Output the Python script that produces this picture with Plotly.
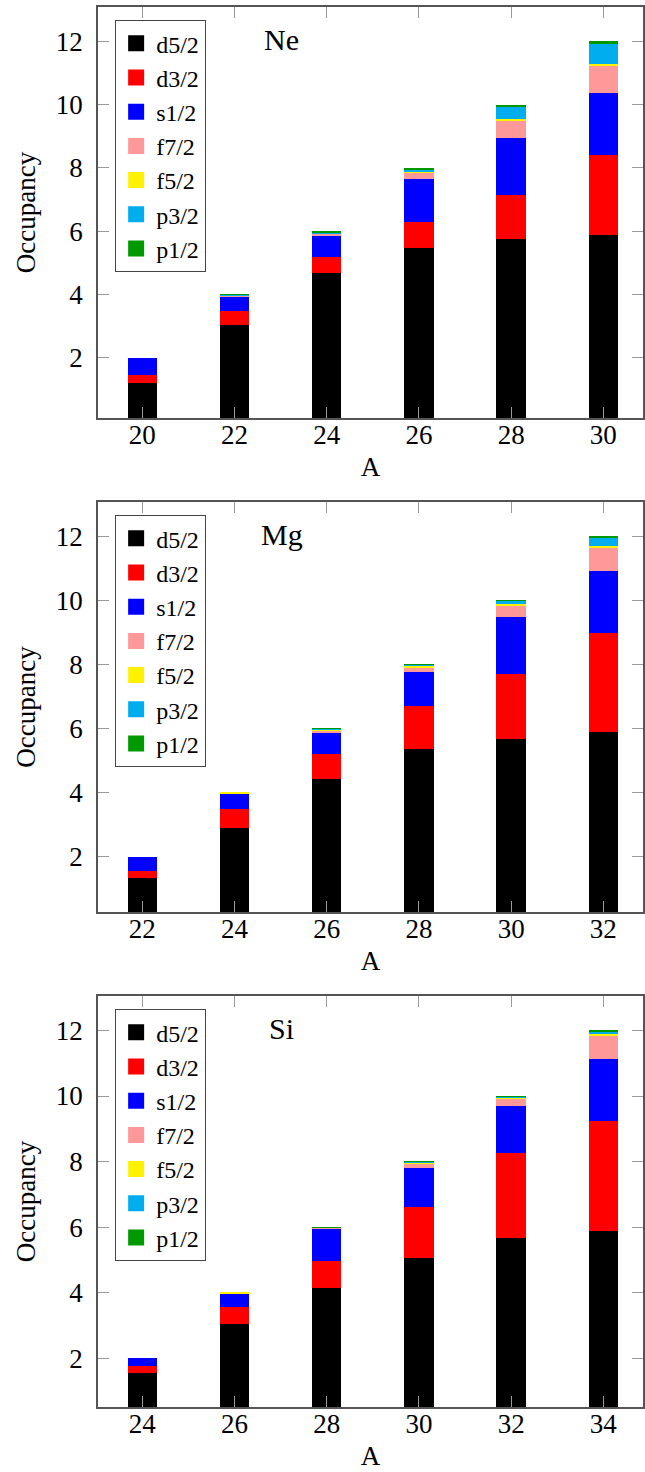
import plotly.graph_objects as go
from plotly.subplots import make_subplots

# Orbital labels and colours
orbitals = ["d5/2", "d3/2", "s1/2", "f7/2", "f5/2", "p3/2", "p1/2"]
colors = ["#000000", "#ff0000", "#0000ff", "#ff9999", "#fff200", "#00aeef", "#009900"]

# Ne isotopes
ne_A = [20, 22, 24, 26, 28, 30]
ne_d52 = [1.19, 3.05, 4.68, 5.46, 5.74, 5.89]
ne_d32 = [0.28, 0.43, 0.51, 0.82, 1.40, 2.51]
ne_s12 = [0.53, 0.47, 0.68, 1.38, 1.81, 1.95]
ne_f72 = [0.0, 0.025, 0.06, 0.20, 0.55, 0.86]
ne_f52 = [0.0, 0.005, 0.01, 0.04, 0.05, 0.07]
ne_p32 = [0.0, 0.01, 0.02, 0.06, 0.39, 0.63]
ne_p12 = [0.0, 0.01, 0.04, 0.04, 0.06, 0.09]

# Mg isotopes
mg_A = [22, 24, 26, 28, 30, 32]
mg_d52 = [1.33, 2.90, 4.42, 5.35, 5.67, 5.89]
mg_d32 = [0.21, 0.59, 0.78, 1.35, 2.04, 3.08]
mg_s12 = [0.46, 0.48, 0.68, 1.05, 1.76, 1.94]
mg_f72 = [0.0, 0.01, 0.06, 0.16, 0.36, 0.75]
mg_f52 = [0.0, 0.02, 0.02, 0.04, 0.05, 0.05]
mg_p32 = [0.0, 0.0, 0.03, 0.04, 0.10, 0.26]
mg_p12 = [0.0, 0.0, 0.01, 0.01, 0.02, 0.03]

# Si isotopes
si_A = [24, 26, 28, 30, 32, 34]
si_d52 = [1.57, 3.05, 4.14, 5.07, 5.67, 5.90]
si_d32 = [0.19, 0.53, 0.84, 1.55, 2.58, 3.35]
si_s12 = [0.24, 0.40, 0.97, 1.19, 1.46, 1.87]
si_f72 = [0.0, 0.01, 0.03, 0.14, 0.21, 0.74]
si_f52 = [0.0, 0.01, 0.01, 0.03, 0.04, 0.06]
si_p32 = [0.0, 0.0, 0.005, 0.01, 0.03, 0.06]
si_p12 = [0.0, 0.0, 0.005, 0.01, 0.01, 0.02]

y_ticks = [2, 4, 6, 8, 10, 12]

panels = [
    ("Ne", ne_A, [ne_d52, ne_d32, ne_s12, ne_f72, ne_f52, ne_p32, ne_p12], [0.10, 13.08]),
    ("Mg", mg_A, [mg_d52, mg_d32, mg_s12, mg_f72, mg_f52, mg_p32, mg_p12], [0.27, 13.07]),
    ("Si", si_A, [si_d52, si_d32, si_s12, si_f72, si_f52, si_p32, si_p12], [0.52, 13.05]),
]

FONT = "'Liberation Serif', 'DejaVu Serif', serif"
FS = 27
LEG_FS = 24
W, H = 645, 1472
ML, MR, MT, MB = 98, 0, 7, 65
plot_h = H - MT - MB

# pixel extents (top, bottom) of each axis box
boxes = [(7, 418), (502, 912), (996, 1407)]

fig = make_subplots(rows=3, cols=1)

for i, (name, A, series, yr) in enumerate(panels):
    row = i + 1
    leg = "legend" if i == 0 else f"legend{i + 1}"
    for orb, col, vals in zip(orbitals, colors, series):
        fig.add_trace(
            go.Bar(x=A, y=vals, name=orb, width=0.64,
                   marker=dict(color=col, line=dict(width=0)),
                   showlegend=False),
            row=row, col=1,
        )
    # legend swatches
    for orb, col in zip(orbitals, colors):
        fig.add_trace(
            go.Scatter(x=[None], y=[None], mode="markers", name=orb,
                       marker=dict(symbol="square", size=16, color=col,
                                   line=dict(width=0)),
                       legend=leg, legendgroup=f"{name}-{orb}", showlegend=True),
            row=row, col=1,
        )

    top, bot = boxes[i]
    d0 = (H - MB - bot) / plot_h
    d1 = (H - MB - top) / plot_h
    xa = "xaxis" if i == 0 else f"xaxis{row}"
    ya = "yaxis" if i == 0 else f"yaxis{row}"
    fig.layout[ya].domain = [d0, d1]
    fig.layout[xa].domain = [0, 1]

    x_lo = A[0] - 0.96
    x_hi = A[0] + 10.86
    fig.update_xaxes(
        range=[x_lo, x_hi], tickvals=A, ticktext=[str(a) for a in A],
        ticks="inside", ticklen=11, tickwidth=1, tickcolor="#9a9a9a",
        showline=True, linecolor="#555555", linewidth=1.5, mirror="ticks",
        showgrid=False, zeroline=False,
        tickfont=dict(family=FONT, size=FS, color="black"),
        ticklabelstandoff=-8,
        title=dict(text="A", font=dict(family=FONT, size=FS, color="black"), standoff=8),
        row=row, col=1,
    )
    fig.update_yaxes(
        range=yr, tickvals=y_ticks,
        ticks="inside", ticklen=11, tickwidth=1, tickcolor="#9a9a9a",
        showline=True, linecolor="#555555", linewidth=1.5, mirror="ticks",
        showgrid=False, zeroline=False,
        tickfont=dict(family=FONT, size=FS, color="black"),
        ticklabelstandoff=8,
        title=dict(text="Occupancy", font=dict(family=FONT, size=FS, color="black"), standoff=12),
        row=row, col=1,
    )

    # nucleus name inside the panel
    fig.add_annotation(
        text=name, xref=f"x{'' if i == 0 else row} domain", yref=f"y{'' if i == 0 else row} domain",
        x=0.337, y=0.92, showarrow=False, xanchor="center", yanchor="middle",
        font=dict(family=FONT, size=30, color="black"),
    )

    # legend placed in the upper-left corner of the panel
    leg_top = top + 13
    fig.layout[leg] = dict(
        x=17 / (W - ML - MR), y=(H - MB - leg_top) / plot_h,
        xanchor="left", yanchor="top",
        bgcolor="white", bordercolor="#444444", borderwidth=1.2,
        font=dict(family=FONT, size=LEG_FS, color="black"),
        itemsizing="trace", tracegroupgap=0,
        traceorder="normal",
    )

fig.update_layout(
    barmode="stack",
    width=W, height=H,
    margin=dict(l=ML, r=MR, t=MT, b=MB),
    paper_bgcolor="white", plot_bgcolor="white",
    font=dict(family=FONT, color="black"),
)

fig.write_html("out.html")
